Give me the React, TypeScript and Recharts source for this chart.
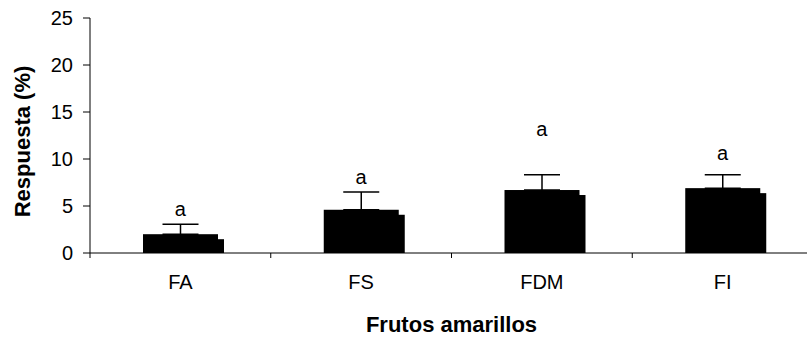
import React from "react";
import {
  ComposedChart,
  Bar,
  ErrorBar,
  Scatter,
  XAxis,
  YAxis,
} from "recharts";

const categories = ["FA", "FS", "FDM", "FI"];
const respuesta = [2.0, 4.6, 6.7, 6.9];
const errorUp = [1.05, 1.88, 1.63, 1.42];
const letters = ["a", "a", "a", "a"];
const letterHeight = [3.9, 7.3, 12.4, 9.9];
const yTicks = [0, 5, 10, 15, 20, 25];

const CHART_W = 815;
const CHART_H = 341;
const Y_AXIS_W = 90;
const MARGIN_RIGHT = 2;
const HALF_BAND = (CHART_W - Y_AXIS_W - MARGIN_RIGHT) / categories.length / 2;
const FONT = "'Liberation Sans', Arial, sans-serif";

const data = categories.map((name, i) => ({
  name,
  value: respuesta[i],
  err: [0, errorUp[i]],
  letterAt: letterHeight[i],
  letter: letters[i],
}));

function ShadowBar(props: any) {
  const { x, y, width, height } = props;
  if (height <= 0) return null;
  return (
    <g>
      <rect x={x + 6} y={y + 5} width={width} height={height - 5} fill="#000" />
      <rect x={x} y={y} width={width} height={height} fill="#000" />
    </g>
  );
}

function LetterMark(props: any) {
  const { cx, cy, payload } = props;
  return (
    <text x={cx} y={cy} textAnchor="middle" fontSize={20} fontFamily={FONT} fill="#000">
      {payload.letter}
    </text>
  );
}

function CategoryTick(props: any) {
  const { x, y, payload } = props;
  return (
    <g>
      <line x1={x - HALF_BAND} y1={y} x2={x - HALF_BAND} y2={y + 5} stroke="#000" />
      <text x={x} y={y + 36} textAnchor="middle" fontSize={20} fontFamily={FONT} fill="#000">
        {payload.value}
      </text>
    </g>
  );
}

export default function App() {
  return (
    <div
      style={{
        position: "absolute",
        left: 0,
        top: 0,
        width: 807,
        height: 341,
        overflow: "hidden",
        background: "#fff",
      }}
    >
      <ComposedChart
        width={CHART_W}
        height={CHART_H}
        data={data}
        margin={{ top: 18, right: MARGIN_RIGHT, left: 0, bottom: 0 }}
      >
        <XAxis
          dataKey="name"
          height={88}
          axisLine={{ stroke: "#000" }}
          tickLine={false}
          tickSize={0}
          tickMargin={0}
          tick={<CategoryTick />}
          label={{
            content: (p: any) => {
              const vb = p.viewBox;
              return (
                <text
                  x={vb.x + vb.width / 2}
                  y={vb.y + 79}
                  textAnchor="middle"
                  fontSize={22}
                  fontWeight="bold"
                  fontFamily={FONT}
                  fill="#000"
                >
                  Frutos amarillos
                </text>
              );
            },
          }}
        />
        <YAxis
          width={Y_AXIS_W}
          domain={[0, 25]}
          ticks={yTicks}
          interval={0}
          axisLine={{ stroke: "#000" }}
          tickLine={{ stroke: "#000" }}
          tickSize={7}
          tickMargin={10}
          tick={{ fontSize: 20, fontFamily: FONT, fill: "#000" }}
          label={{
            content: () => (
              <text
                x={30}
                y={141.5}
                transform="rotate(-90, 30, 141.5)"
                textAnchor="middle"
                fontSize={22}
                fontWeight="bold"
                fontFamily={FONT}
                fill="#000"
              >
                Respuesta (%)
              </text>
            ),
          }}
        />
        <Bar dataKey="value" barSize={75} shape={<ShadowBar />} isAnimationActive={false}>
          <ErrorBar dataKey="err" width={18} stroke="#000" strokeWidth={1.5} direction="y" />
        </Bar>
        <Scatter
          dataKey="letterAt"
          shape={<LetterMark />}
          legendType="none"
          isAnimationActive={false}
        />
      </ComposedChart>
    </div>
  );
}
